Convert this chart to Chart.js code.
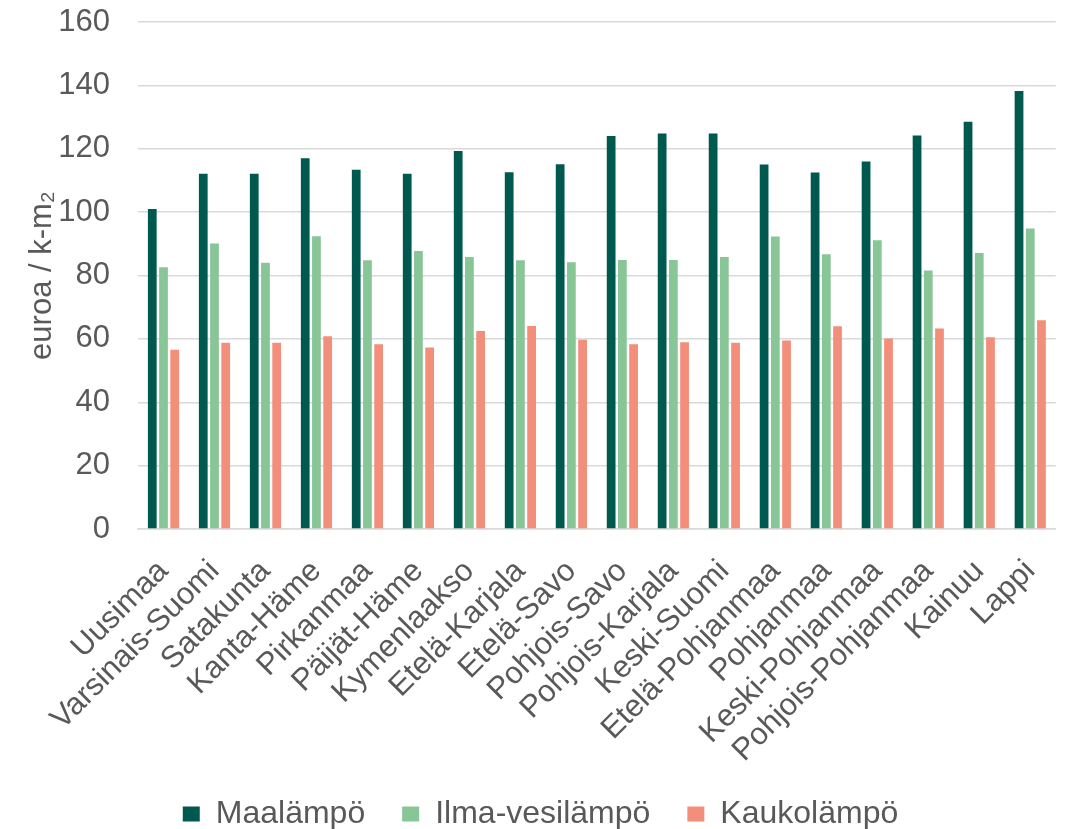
<!DOCTYPE html>
<html>
<head>
<meta charset="utf-8">
<script src="https://cdn.jsdelivr.net/npm/chart.js@4"></script>
<style>
  html, body { margin: 0; padding: 0; background: #fff; }
</style>
</head>
<body>
<canvas id="chart" width="1073" height="829"></canvas>
<script>
// maakunnat
const regions = ['Uusimaa', 'Varsinais-Suomi', 'Satakunta', 'Kanta-Häme', 'Pirkanmaa', 'Päijät-Häme',
  'Kymenlaakso', 'Etelä-Karjala', 'Etelä-Savo', 'Pohjois-Savo', 'Pohjois-Karjala', 'Keski-Suomi',
  'Etelä-Pohjanmaa', 'Pohjanmaa', 'Keski-Pohjanmaa', 'Pohjois-Pohjanmaa', 'Kainuu', 'Lappi'];

const maalampo = [101, 112.1, 112.1, 117, 113.4, 112.1, 119.3, 112.6, 115.1, 124, 124.8, 124.8, 115, 112.5, 116, 124.2, 128.5, 138.2];
const ilmaVesilampo = [82.6, 90.1, 84, 92.4, 84.8, 87.7, 85.8, 84.8, 84.2, 84.9, 84.9, 85.8, 92.3, 86.7, 91.1, 81.6, 87.1, 94.8];
const kaukolampo = [56.6, 58.8, 58.8, 60.8, 58.3, 57.3, 62.5, 64.1, 59.7, 58.3, 58.9, 58.8, 59.5, 64, 60.1, 63.3, 60.5, 65.9];

const yTicks = [0, 20, 40, 60, 80, 100, 120, 140, 160];

const textColor = '#595959';
const font = 'Liberation Sans, Arial, sans-serif';

const mkSet = (label, data, color) => ({
  label,
  data,
  backgroundColor: color,
  borderWidth: 0,
  categoryPercentage: 0.66,
  barPercentage: 0.78,
});

new Chart(document.getElementById('chart').getContext('2d'), {
  type: 'bar',
  data: {
    labels: regions,
    datasets: [
      mkSet('Maalämpö', maalampo, '#00594F'),
      mkSet('Ilma-vesilämpö', ilmaVesilampo, '#88C597'),
      mkSet('Kaukolämpö', kaukolampo, '#F28E79'),
    ],
  },
  options: {
    responsive: false,
    animation: false,
    layout: { padding: { top: 22, right: 16, left: 24, bottom: -11 } },
    plugins: {
      tooltip: { enabled: false },
      legend: {
        position: 'bottom',
        labels: {
          font: { family: font, size: 32 },
          color: textColor,
          boxWidth: 17,
          boxHeight: 15,
          padding: 37,
        },
      },
    },
    scales: {
      x: {
        grid: { display: false },
        border: { color: '#d9d9d9', width: 1.5 },
        ticks: {
          color: textColor,
          font: { family: font, size: 31 },
          maxRotation: 45,
          minRotation: 45,
          autoSkip: false,
          padding: 16,
        },
        afterFit: (scale) => { scale.height = 232; },
      },
      y: {
        min: 0,
        max: 160,
        afterBuildTicks: (scale) => { scale.ticks = yTicks.map(v => ({ value: v })); },
        grid: { color: '#d9d9d9', lineWidth: 1.5, drawTicks: false },
        border: { display: false },
        ticks: {
          color: textColor,
          font: { family: font, size: 31 },
          padding: 28,
        },
        title: {
          display: true,
          text: 'euroa / k-m₂',
          color: textColor,
          font: { family: font, size: 31 },
          padding: { top: 0, bottom: 0 },
        },
        afterFit: (scale) => {
          scale.width = 114;
          // tick padding otherwise pushes the plot top down
          scale.paddingTop = 0;
          scale.paddingBottom = 0;
        },
      },
    },
  },
});
</script>
</body>
</html>
